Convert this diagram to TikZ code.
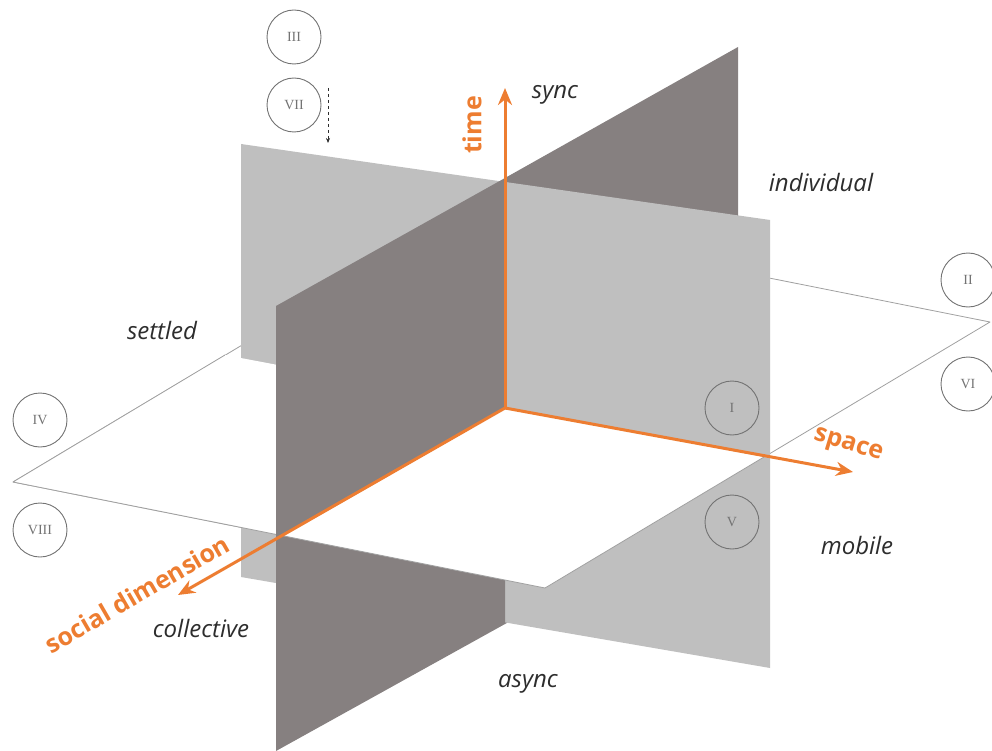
\documentclass[tikz,border=0pt]{standalone}
\usepackage{fontspec}
\usepackage{xcolor}
\usepackage{tikz}
\usetikzlibrary{arrows.meta,calc}
\setmainfont{Open Sans}
\newfontfamily\numfont{Liberation Serif}
\definecolor{axiscolor}{RGB}{237,125,49}
\definecolor{lightplane}{RGB}{191,191,191}
\definecolor{darkplane}{RGB}{134,128,128}
\definecolor{edgecolor}{RGB}{160,160,160}
\definecolor{labelcolor}{RGB}{45,45,45}
\definecolor{numcolor}{RGB}{115,115,115}

\begin{document}
\begin{tikzpicture}[
    x=1pt, y=-1pt,
    axis/.style={-{Stealth[length=17pt,width=14pt]}, line width=3pt, draw=axiscolor},
    axislabel/.style={font=\fontsize{25}{29}\selectfont\bfseries, text=axiscolor, inner sep=0pt},
    pole/.style={font=\fontsize{24}{28}\selectfont\itshape, text=labelcolor, inner sep=0pt},
    quadrant/.style={circle, draw=numcolor, line width=0.9pt, minimum size=54pt, inner sep=0pt, font=\numfont\fontsize{14}{16}\selectfont, text=numcolor},
    wedge/.style={draw=edgecolor, line width=0.8pt, line join=round}
]
\useasboundingbox (0,0) rectangle (992,751);

% corners of the three planes
\coordinate (o) at (505,408);
\coordinate (wl) at (13,482);
\coordinate (wf) at (545,588);
\coordinate (wr) at (990,322);
\coordinate (wb) at (458,216);
\coordinate (wlc) at (225,355);
\coordinate (wrc) at (764,457);
\coordinate (gtl) at (241,144);
\coordinate (gtr) at (770,220);
\coordinate (gbr) at (770,668);
\coordinate (gbl) at (241,577);
\coordinate (dtl) at (276,306);
\coordinate (dtr) at (738,47);
\coordinate (dbr) at (738,495);
\coordinate (dbl) at (276,751);
\coordinate (dtop) at (505,178);
\coordinate (dbot) at (505,624);
\coordinate (dsoc) at (276,539);

% back parts
\filldraw[wedge, fill=white] (wl) -- (wf) -- (wr) -- (wb) -- cycle;
\fill[darkplane] (dtop) -- (dtr) -- (dbr) -- (dbot) -- cycle;
\fill[lightplane] (gtl) -- (gtr) -- (gbr) -- (gbl) -- cycle;

% front parts
\fill[darkplane] (o) -- (dsoc) -- (dbl) -- (dbot) -- cycle;
\fill[white] (wlc) -- (wl) -- (wf) -- (wrc) -- (o) -- cycle;
\draw[wedge] (wlc) -- (wl) -- (wf) -- (wrc);
\fill[darkplane] (dtl) -- (dtop) -- (o) -- (dsoc) -- cycle;

% axes
\coordinate (timeend) at (505,88);
\coordinate (spaceend) at (853,472);
\coordinate (socialend) at (178,595);
\draw[axis] (o) -- (timeend);
\draw[axis] (o) -- (spaceend);
\draw[axis] (o) -- (socialend);

\node[axislabel, rotate=90] (time) at (472,125) {time};
\node[axislabel, rotate=-17] (space) at (848,446) {space};
\node[axislabel, rotate=30] (social) at (137,594) {social dimension};

\node[pole] (sync) at (555,95) {sync};
\node[pole] (async) at (528,684) {async};
\node[pole] (individual) at (821,183) {individual};
\node[pole] (collective) at (201,628) {collective};
\node[pole] (settled) at (162,330) {settled};
\node[pole] (mobile) at (857,545) {mobile};

% octants
\node[quadrant] (q1) at (732,408) {I};
\node[quadrant] (q2) at (968,280) {II};
\node[quadrant] (q3) at (294,37) {III};
\node[quadrant] (q4) at (40,420) {IV};
\node[quadrant] (q5) at (732,522) {V};
\node[quadrant] (q6) at (968,384) {VI};
\node[quadrant] (q7) at (294,105) {VII};
\node[quadrant] (q8) at (40,530) {VIII};

\coordinate (dashtop) at (328,88);
\coordinate (dashbot) at (328,143);
\draw[dashed, -{Stealth[length=5pt,width=4pt]}, draw=labelcolor, line width=0.6pt] (dashtop) -- (dashbot);

\end{tikzpicture}
\end{document}
